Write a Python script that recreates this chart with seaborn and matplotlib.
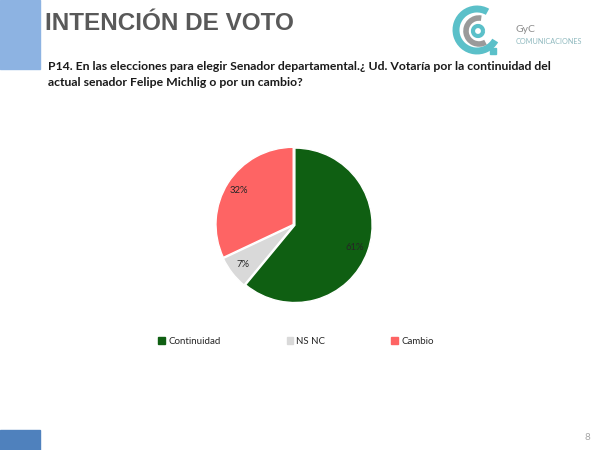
import numpy as np
import matplotlib
matplotlib.use("Agg")
import matplotlib.pyplot as plt
import seaborn as sns
from matplotlib.patches import Rectangle, Arc

# Data
categories = ["Continuidad", "NS NC", "Cambio"]
shares = [61, 7, 32]
colors = ["#0f5f12", "#d9d9d9", "#fe6464"]

title = "INTENCIÓN DE VOTO"
question = ("P14. En las elecciones para elegir Senador departamental.¿ Ud. Votaría por la continuidad del\n"
            "actual senador Felipe Michlig o por un cambio?")

sns.set_theme(style="white")
plt.rcParams["font.family"] = ["Lato", "DejaVu Sans"]

fig = plt.figure(figsize=(6, 4.5), dpi=100)

# side blocks
fig.patches.append(Rectangle((0, 1 - 69 / 450), 40 / 600, 69 / 450, transform=fig.transFigure,
                             color="#8db3e2", zorder=0))
fig.patches.append(Rectangle((0, 0), 40 / 600, 20 / 450, transform=fig.transFigure,
                             color="#4f81bd", zorder=0))

fig.text(45 / 600, 1 - 24 / 450, title, fontsize=17.5, fontweight="bold", color="#595959",
         family=["Liberation Sans", "DejaVu Sans"], va="center", ha="left")
fig.text(48 / 600, 1 - 61 / 450, question, fontsize=8.8, fontweight="bold", color="#1a1a1a",
         va="top", ha="left", linespacing=1.5)
fig.text(590 / 600, 1 - 438 / 450, "8", fontsize=7, color="#a6a6a6", ha="right", va="center")

# logo
lax = fig.add_axes([452 / 600, 1 - 56 / 450, 56 / 600, 52 / 450])
lax.set_xlim(0, 56)
lax.set_ylim(0, 52)
lax.set_aspect("equal")
lax.axis("off")
lax.add_patch(Arc((25, 26), 42, 42, theta1=60, theta2=330, color="#5bc0c9", lw=5))
lax.add_patch(Arc((27, 25), 26, 26, theta1=80, theta2=300, color="#9a9a9a", lw=4))
lax.add_patch(Arc((26, 25), 10, 10, theta1=0, theta2=360, color="#5bc0c9", lw=3))
lax.add_patch(Rectangle((38, 2), 6, 6, color="#5bc0c9"))
fig.text(516 / 600, 1 - 30 / 450, "GyC", fontsize=7.5, color="#8c8c8c", ha="left", va="center")
fig.text(516 / 600, 1 - 41 / 450, "COMUNICACIONES", fontsize=5.2, color="#8fb9bf", ha="left", va="center")

# pie
ax = fig.add_axes([(294 - 78) / 600, 1 - (225 + 78) / 450, 156 / 600, 156 / 450])
wedges, texts, autotexts = ax.pie(
    shares, colors=colors, startangle=90, counterclock=False,
    explode=[0.012, 0.012, 0.012],
    autopct=lambda p: f"{p:.0f}%", pctdistance=0.83,
    wedgeprops=dict(edgecolor="white", linewidth=1),
    textprops=dict(fontsize=6.8, color="#262626"))
ax.set_xlim(-1.01, 1.01)
ax.set_ylim(-1.01, 1.01)
ax.set_aspect("equal")

handles = [Rectangle((0, 0), 1, 1, color=c) for c in colors]
fig.legend(handles, categories, loc="center", bbox_to_anchor=(296 / 600, 1 - 341 / 450),
           ncol=3, frameon=False, fontsize=7, handlelength=0.7, handleheight=0.7,
           handletextpad=0.3, columnspacing=6.8)

fig.savefig("out.png", dpi=100, facecolor="white")
